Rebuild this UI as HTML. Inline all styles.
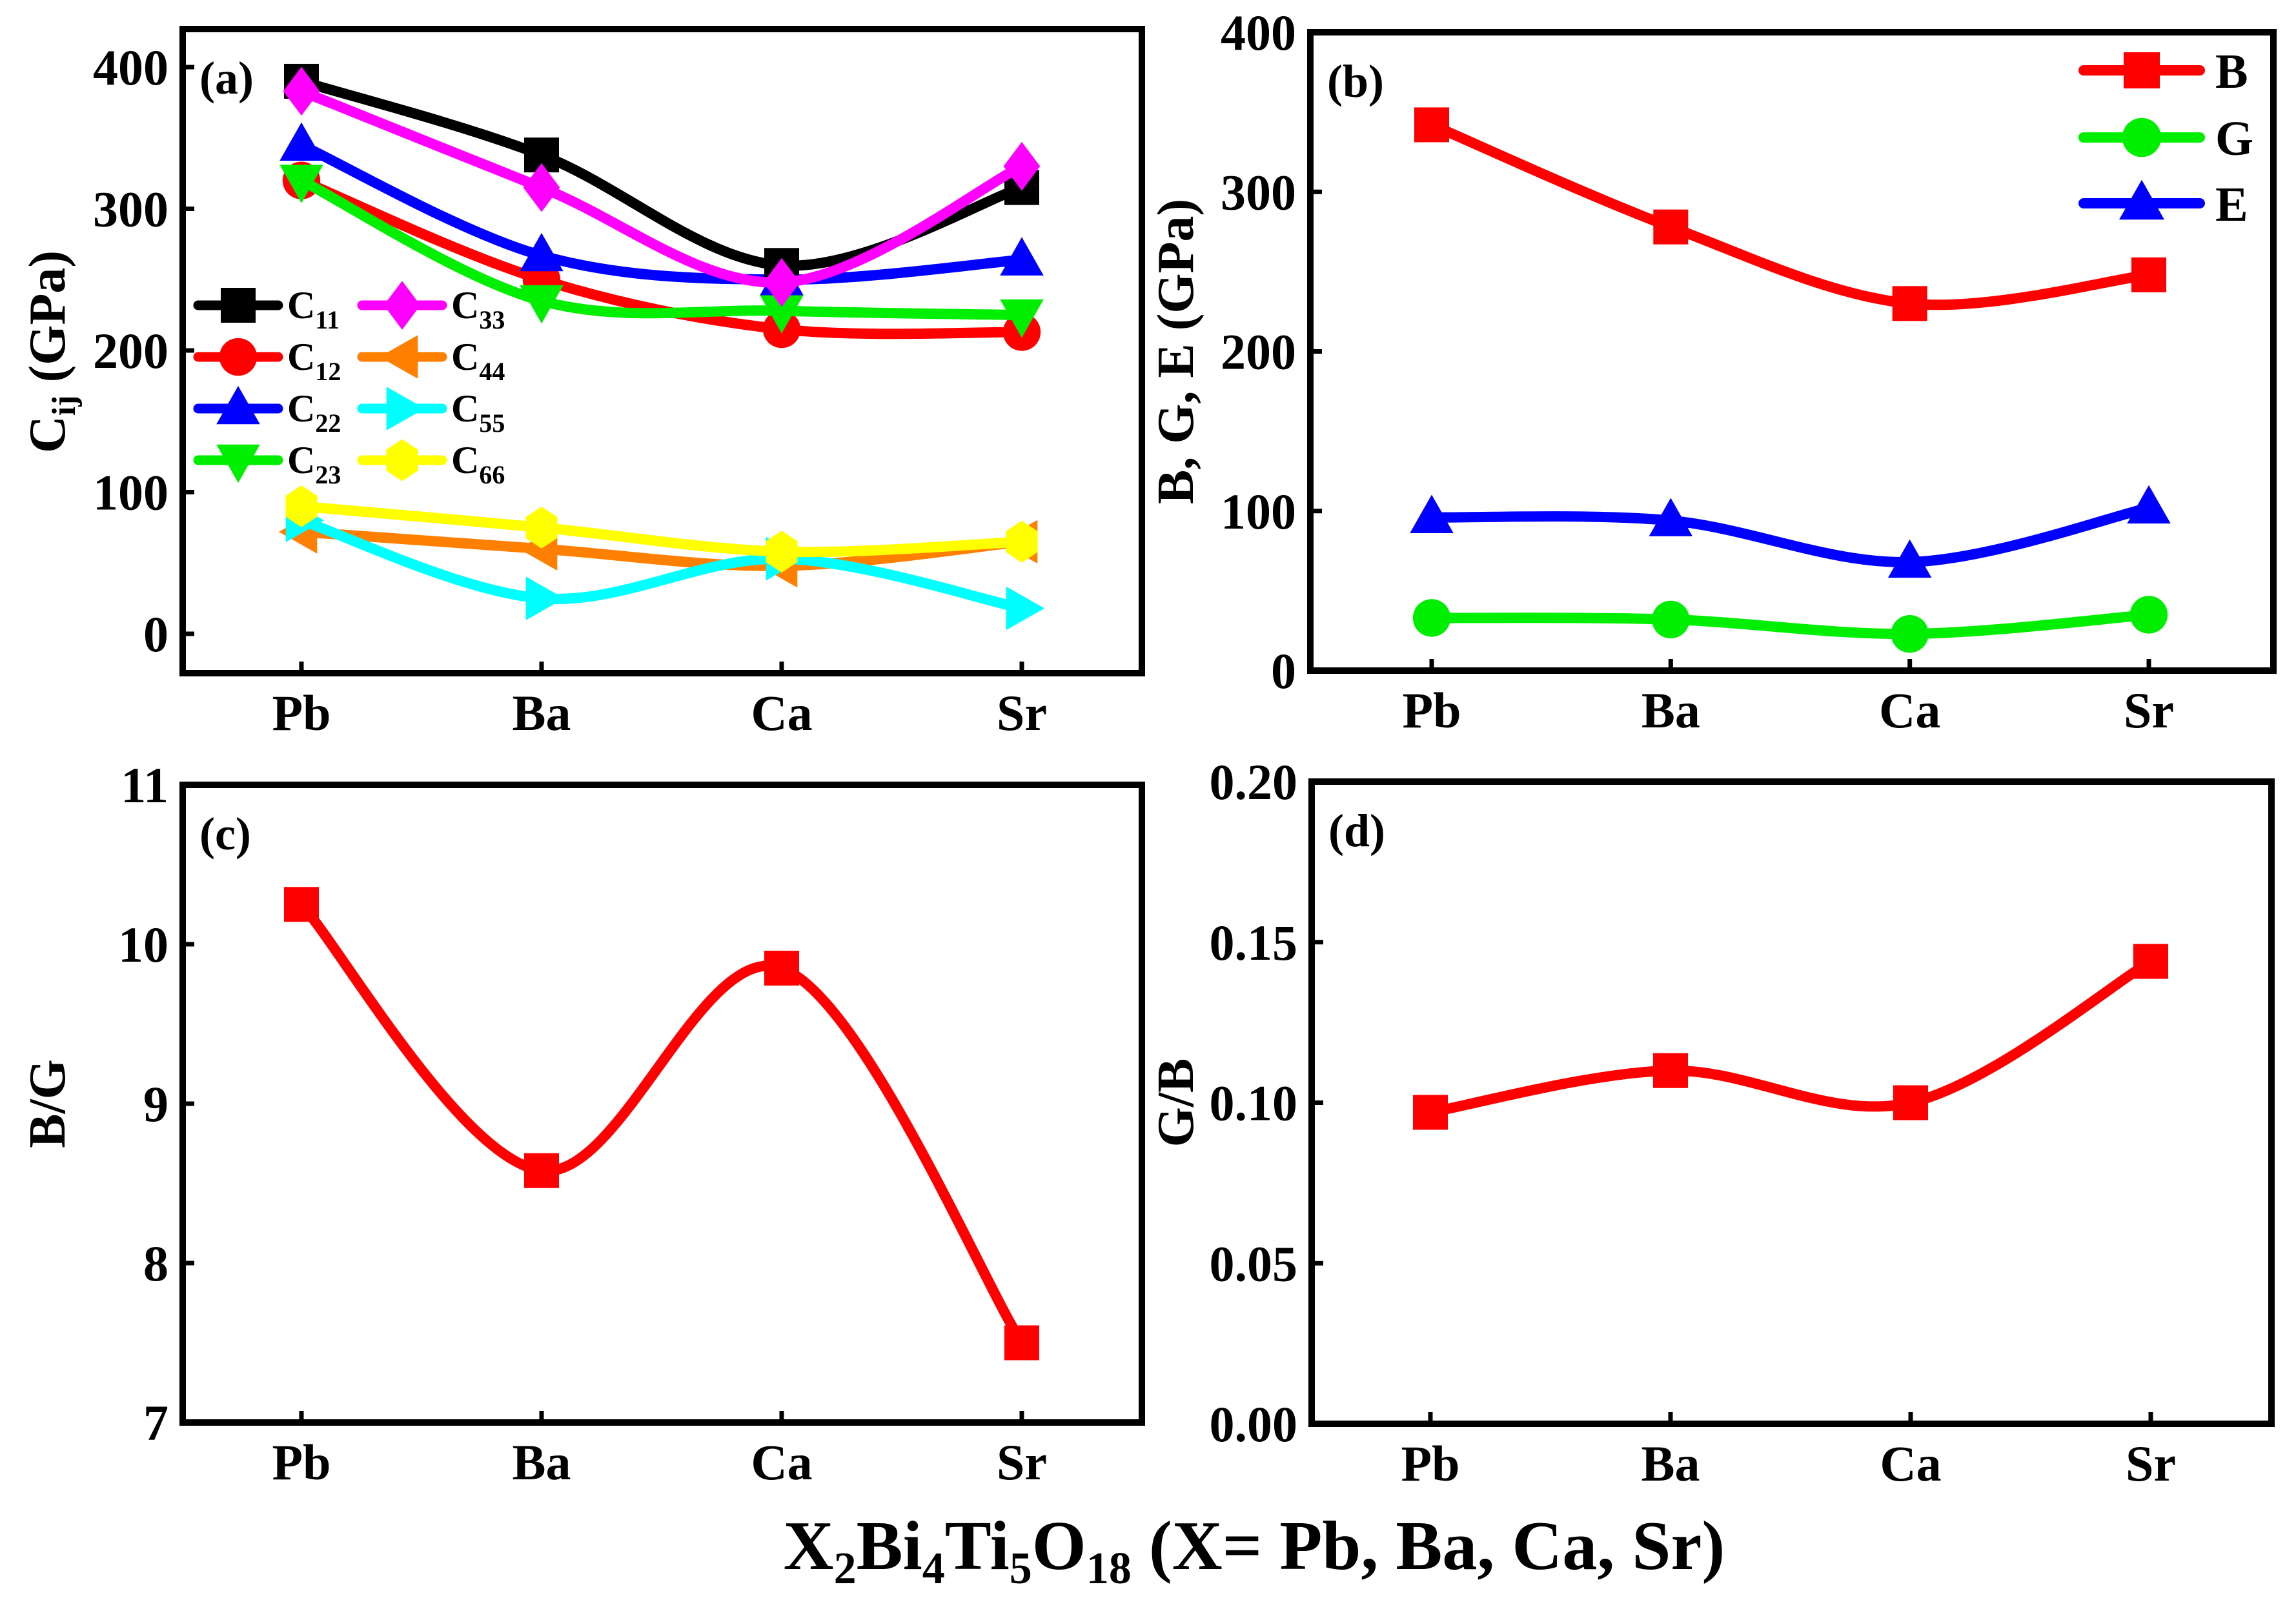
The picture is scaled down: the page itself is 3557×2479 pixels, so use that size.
<!DOCTYPE html>
<html><head><meta charset="utf-8"><style>
html,body{margin:0;padding:0;background:#fff}
svg{display:block}
text{font-family:"Liberation Serif",serif;font-weight:bold;fill:#000}
</style></head><body>
<svg id="fig" width="3557" height="2479" viewBox="0 0 3557 2479" xmlns="http://www.w3.org/2000/svg">
<text x="1943" y="2431" font-size="108" text-anchor="middle">X<tspan font-size="70" dy="22">2</tspan><tspan dy="-22">Bi</tspan><tspan font-size="70" dy="22">4</tspan><tspan dy="-22">Ti</tspan><tspan font-size="70" dy="22">5</tspan><tspan dy="-22">O</tspan><tspan font-size="70" dy="22">18</tspan><tspan dy="-22"> (X= Pb, Ba, Ca, Sr)</tspan></text>
</svg>
<script>
const categories = ["Pb","Ba","Ca","Sr"];
// panel a
const c11 = [390,338,260,315];
const c12 = [320,250,215,213];
const c22 = [345,267,250,264];
const c23 = [320,235,228,225];
const c33 = [383,315,248,330];
const c44 = [72,60,48,65];
const c55 = [80,25,53,18];
const c66 = [90,75,58,65];
const ticksA = [0,100,200,300,400];
// panel b
const bulk = [342,278,230,248];
const shear = [33,32,23,35];
const young = [96,94,68,102];
const ticksB = [0,100,200,300,400];
// panel c
const bg = [10.25,8.58,9.85,7.5];
const ticksC = [7,8,9,10,11];
// panel d
const gb = [0.097,0.11,0.1,0.144];
const ticksD = [0,0.05,0.10,0.15,0.20];
const ticksDLabels = ["0.00","0.05","0.10","0.15","0.20"];

const NS="http://www.w3.org/2000/svg";
const svg=document.getElementById('fig');
function mk(tag,attrs,parent){const e=document.createElementNS(NS,tag);for(const k in attrs)e.setAttribute(k,attrs[k]);(parent||svg).appendChild(e);return e;}

function spline(pts){
  let d=`M${pts[0][0]},${pts[0][1]}`;
  for(let i=0;i<pts.length-1;i++){
    const p0=pts[i-1]||pts[i],p1=pts[i],p2=pts[i+1],p3=pts[i+2]||p2;
    const t=1/6;
    d+=` C${p1[0]+(p2[0]-p0[0])*t},${p1[1]+(p2[1]-p0[1])*t} ${p2[0]-(p3[0]-p1[0])*t},${p2[1]-(p3[1]-p1[1])*t} ${p2[0]},${p2[1]}`;
  }
  return d;
}
function marker(g,type,x,y,s,color){
  const r=s/2;let e;
  if(type==='square')e=mk('rect',{x:x-r,y:y-r,width:s,height:s,fill:color},g);
  else if(type==='circle')e=mk('circle',{cx:x,cy:y,r:r*1.08,fill:color},g);
  else{
    let p;
    if(type==='up')p=[[x,y-r*1.3],[x+r*1.25,y+r*0.9],[x-r*1.25,y+r*0.9]];
    else if(type==='down')p=[[x,y+r*1.3],[x+r*1.25,y-r*0.9],[x-r*1.25,y-r*0.9]];
    else if(type==='left')p=[[x-r*1.3,y],[x+r*0.9,y-r*1.25],[x+r*0.9,y+r*1.25]];
    else if(type==='right')p=[[x+r*1.3,y],[x-r*0.9,y-r*1.25],[x-r*0.9,y+r*1.25]];
    else if(type==='diamond')p=[[x,y-r*1.4],[x+r*1.05,y],[x,y+r*1.4],[x-r*1.05,y]];
    else {p=[];for(let k=0;k<6;k++){const a=Math.PI/2+k*Math.PI/3;p.push([x+r*1.05*Math.cos(a),y+r*1.2*Math.sin(a)]);}}
    e=mk('polygon',{points:p.map(q=>q.join(',')).join(' '),fill:color},g);
  }
  return e;
}

function panel(cfg){
  const g=mk('g',{});
  
  
  const xPos=i=>cfg.x0+(cfg.x3-cfg.x0)*i/(categories.length-1);
  const yPos=v=>cfg.yb-(v-cfg.ymin)/(cfg.ymax-cfg.ymin)*(cfg.yb-cfg.yt);
  cfg.ticks.forEach((t,i)=>{
    const y=yPos(t);
    const tk=mk('line',{x1:cfg.L,x2:cfg.L+18,y1:y,y2:y,stroke:'#000','stroke-width':7},g);
    
    
    const tl=mk('text',{x:cfg.L-22,y:y+27,'font-size':78,'text-anchor':'end'},g);
    
    
    tl.textContent=cfg.tickLabels?cfg.tickLabels[i]:String(t);
  });
  categories.forEach((c,i)=>{
    const x=xPos(i);
    const tk=mk('line',{x1:x,x2:x,y1:cfg.B-18,y2:cfg.B,stroke:'#000','stroke-width':7},g);
    
    
    const tl=mk('text',{x:x,y:cfg.B+88,'font-size':78,'text-anchor':'middle'},g);
    
    
    tl.textContent=c;
  });
  cfg.series.forEach(s=>{
    const sg=mk('g',{},g);
    
    
    const pts=s.data.map((v,i)=>[xPos(i),yPos(v)]);
    const ln=mk('path',{d:spline(pts),fill:'none',stroke:s.color,'stroke-width':16,'stroke-linecap':'round'},sg);
    
    
    pts.forEach((p,i)=>{
      const m=marker(sg,s.mk,p[0],p[1],54,s.color);
      
      
    });
  });
  const fr=mk('rect',{x:cfg.L,y:cfg.T,width:cfg.R-cfg.L,height:cfg.B-cfg.T,fill:'none',stroke:'#000','stroke-width':10},g);
  
  
  const pl=mk('text',{x:cfg.L+26,y:cfg.T+100,'font-size':72},g);
  
  
  pl.textContent=cfg.label;
  const yt=mk('text',{x:0,y:0,'font-size':80,'text-anchor':'middle',transform:`translate(${cfg.ytx},${cfg.ytc||(cfg.T+cfg.B)/2}) rotate(-90)`},g);
  
  
  yt.innerHTML=cfg.ytitle;
  return {g,xPos,yPos};
}

panel({name:'panel-a-elastic-constants',label:'(a)',L:283,R:1769,T:45,B:1043,x0:467,x3:1583,yt:104,yb:982,ymin:0,ymax:400,ticks:ticksA,ytx:100,ytc:545,
  ytitle:'C<tspan font-size="52" dy="16">ij</tspan><tspan dy="-16"> (GPa)</tspan>',
  series:[
    {key:'c44',data:c44,color:'#ff7f00',mk:'left'},
    {key:'c55',data:c55,color:'#00ffff',mk:'right'},
    {key:'c66',data:c66,color:'#ffff00',mk:'hex'},
    {key:'c12',data:c12,color:'#ff0000',mk:'circle'},
    {key:'c23',data:c23,color:'#00ee00',mk:'down'},
    {key:'c22',data:c22,color:'#0000ff',mk:'up'},
    {key:'c11',data:c11,color:'#000000',mk:'square'},
    {key:'c33',data:c33,color:'#ff00ff',mk:'diamond'}
  ]});
const legA=[['C','11','#000000','square',369,473],['C','12','#ff0000','circle',369,553],['C','22','#0000ff','up',369,633],['C','23','#00ee00','down',369,713],
  ['C','33','#ff00ff','diamond',623,473],['C','44','#ff7f00','left',623,553],['C','55','#00ffff','right',623,633],['C','66','#ffff00','hex',623,713]];
const lgA=mk('g',{});


legA.forEach(e=>{
  const eg=mk('g',{},lgA);
  
  
  mk('line',{x1:e[4]-62,x2:e[4]+62,y1:e[5],y2:e[5],stroke:e[2],'stroke-width':15,'stroke-linecap':'round'},eg);
  marker(eg,e[3],e[4],e[5],54,e[2]);
  const t=mk('text',{x:e[4]+76,y:e[5]+20,'font-size':60,'font-weight':'normal'},eg);
  t.innerHTML=e[0]+'<tspan font-size="40" dy="16">'+e[1]+'</tspan>';
});

panel({name:'panel-b-moduli',label:'(b)',L:2030,R:3522,T:50,B:1039,x0:2218,x3:3329,yt:50,yb:1039,ymin:0,ymax:400,ticks:ticksB,ytx:1848,
  ytitle:'B, G, E (GPa)',
  series:[
    {key:'b',data:bulk,color:'#ff0000',mk:'square'},
    {key:'g',data:shear,color:'#00ee00',mk:'circle'},
    {key:'e',data:young,color:'#0000ff',mk:'up'}
  ]});
const legB=[['B','#ff0000','square',109],['G','#00ee00','circle',213],['E','#0000ff','up',315]];
const lgB=mk('g',{});


legB.forEach(e=>{
  const eg=mk('g',{},lgB);
  
  
  mk('line',{x1:3228,x2:3408,y1:e[3],y2:e[3],stroke:e[1],'stroke-width':16,'stroke-linecap':'round'},eg);
  marker(eg,e[2],3318,e[3],56,e[1]);
  const t=mk('text',{x:3432,y:e[3]+27,'font-size':76},eg);
  t.textContent=e[0];
});

panel({name:'panel-c-b-over-g',label:'(c)',L:283,R:1769,T:1216,B:2204,x0:467,x3:1583,yt:1216,yb:2204,ymin:7,ymax:11,ticks:ticksC,ytx:100,
  ytitle:'B/G',
  series:[{key:'bg',data:bg,color:'#ff0000',mk:'square'}]});
panel({name:'panel-d-g-over-b',label:'(d)',L:2032,R:3519,T:1211,B:2206,x0:2216,x3:3332,yt:1211,yb:2206,ymin:0,ymax:0.2,ticks:ticksD,tickLabels:ticksDLabels,ytx:1848,
  ytitle:'G/B',
  series:[{key:'gb',data:gb,color:'#ff0000',mk:'square'}]});
</script>
</body></html>
